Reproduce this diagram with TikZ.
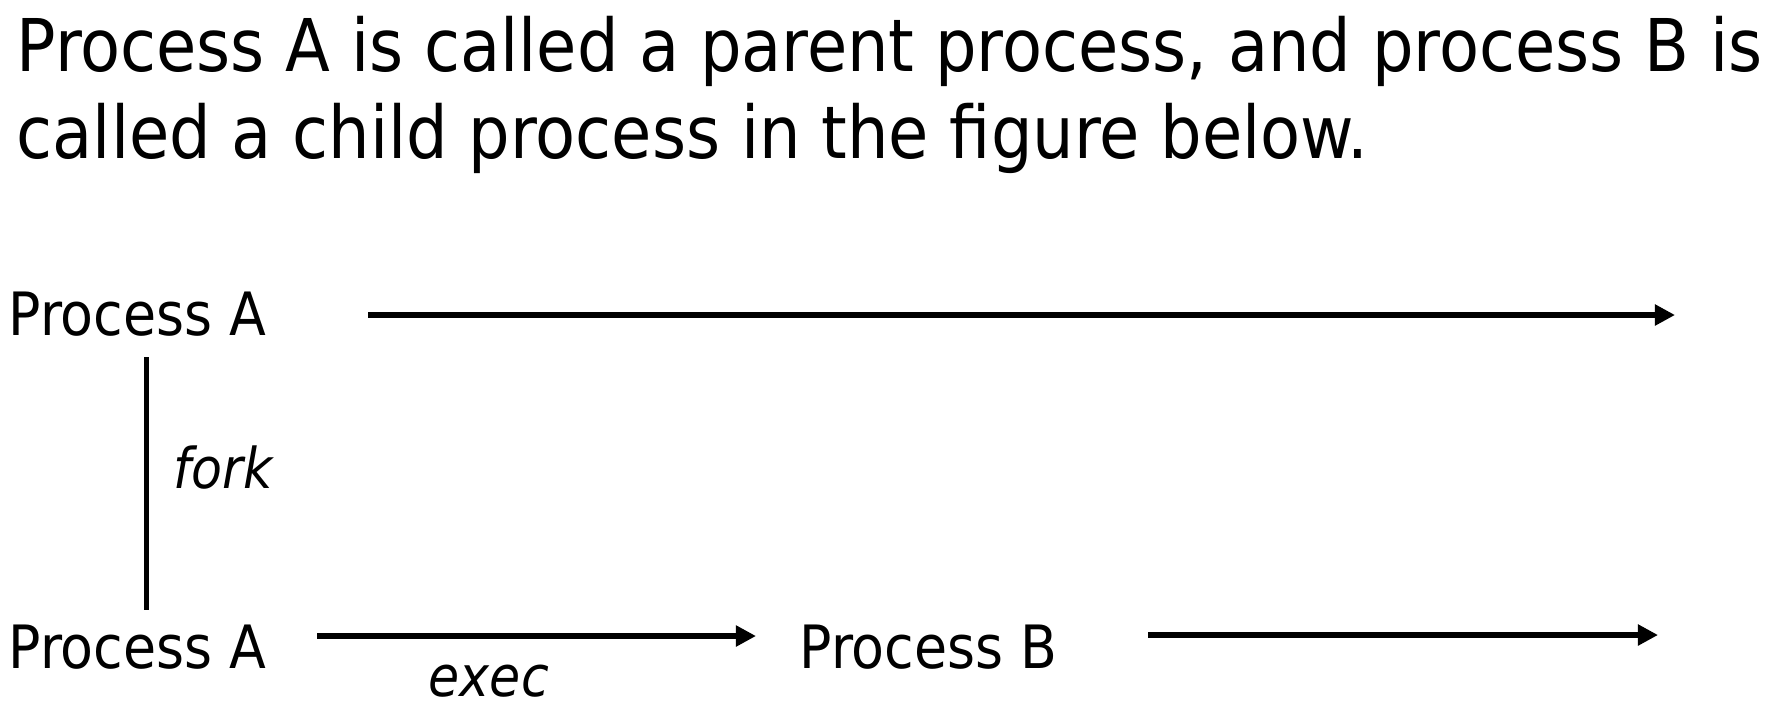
\documentclass[tikz,border=0pt]{standalone}
\usepackage{fontspec}
\setmainfont{DejaVu Sans Condensed}
\usetikzlibrary{arrows.meta}

\begin{document}
\begin{tikzpicture}[line width=1.6pt,
		>={Triangle[length=5.7pt,width=5.7pt]},
		lbl/.style={inner sep=0pt,anchor=base west,font=\fontsize{17}{20}\selectfont},
		op/.style={lbl,font=\fontsize{16}{19}\selectfont\itshape},
		head/.style={lbl,font=\fontsize{20.7}{25}\selectfont}]
		\useasboundingbox (0,0) rectangle (17.7,-7.18);

		% Heading
		\node[head] (head1) at (0.14,-0.71) {Process A is called a parent process, and process B is};
		\node[head] (head2) at (0.14,-1.58) {called a child process in the figure below.};

		% Parent: process A keeps running
		\node[lbl] (parA) at (0.06,-3.35) {Process A};
		\coordinate (parS) at (3.68,-3.15);
		\coordinate (parE) at (16.75,-3.15);
		\draw[->] (parS) -- (parE);

		% fork
		\coordinate (forkT) at (1.465,-3.57);
		\coordinate (forkB) at (1.465,-6.10);
		\draw (forkT) -- (forkB);
		\node[op] (forkL) at (1.71,-4.88) {fork};

		% Child: process A, then exec to process B
		\node[lbl] (chA) at (0.06,-6.68) {Process A};
		\node[lbl] (chB) at (7.97,-6.68) {Process B};
		\coordinate (execS) at (3.17,-6.36);
		\coordinate (execE) at (7.56,-6.36);
		\draw[->] (execS) -- (execE);
		\node[op] (execL) at (4.26,-6.96) {exec};
		\coordinate (chS) at (11.48,-6.35);
		\coordinate (chE) at (16.58,-6.35);
		\draw[->] (chS) -- (chE);
	\end{tikzpicture}
\end{document}
